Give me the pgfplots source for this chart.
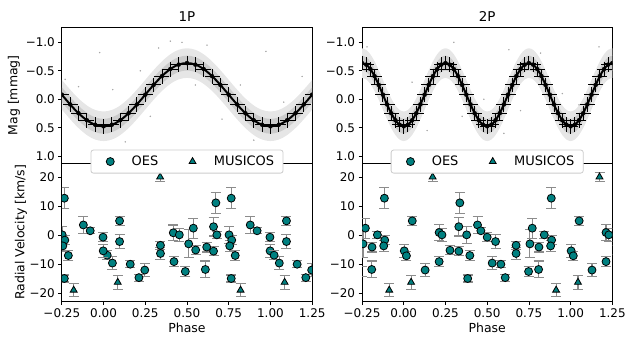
\documentclass[border=0pt]{standalone}
\usepackage{fontspec}
\setmainfont{DejaVu Sans}
\usepackage{pgfplots}
\pgfplotsset{compat=1.18}
\usepackage{pgfplotstable}
\usepgfplotslibrary{fillbetween}

\definecolor{teal0}{RGB}{0,128,128}
\definecolor{ebgray}{RGB}{140,140,140}
\definecolor{cloudo}{RGB}{230,230,230}
\definecolor{cloudi}{RGB}{203,203,203}
\definecolor{legedge}{RGB}{204,204,204}

% light curve 1P: phase, model mag, outer band, inner band
\pgfplotstableread{
p m ou od iu id
-0.250 -0.080 -0.340 0.180 -0.210 0.050
-0.225 0.007 -0.253 0.267 -0.123 0.137
-0.200 0.091 -0.169 0.351 -0.039 0.221
-0.175 0.172 -0.088 0.432 0.042 0.302
-0.150 0.246 -0.014 0.506 0.116 0.376
-0.125 0.312 0.052 0.572 0.182 0.442
-0.100 0.369 0.109 0.629 0.239 0.499
-0.075 0.415 0.155 0.675 0.285 0.545
-0.050 0.448 0.188 0.708 0.318 0.578
-0.025 0.468 0.208 0.728 0.338 0.598
0.000 0.475 0.215 0.735 0.345 0.605
0.025 0.468 0.208 0.728 0.338 0.598
0.050 0.448 0.188 0.708 0.318 0.578
0.075 0.415 0.155 0.675 0.285 0.545
0.100 0.369 0.109 0.629 0.239 0.499
0.125 0.312 0.052 0.572 0.182 0.442
0.150 0.246 -0.014 0.506 0.116 0.376
0.175 0.172 -0.088 0.432 0.042 0.302
0.200 0.091 -0.169 0.351 -0.039 0.221
0.225 0.007 -0.253 0.267 -0.123 0.137
0.250 -0.080 -0.340 0.180 -0.210 0.050
0.275 -0.167 -0.427 0.093 -0.297 -0.037
0.300 -0.251 -0.511 0.009 -0.381 -0.121
0.325 -0.332 -0.592 -0.072 -0.462 -0.202
0.350 -0.406 -0.666 -0.146 -0.536 -0.276
0.375 -0.472 -0.732 -0.212 -0.602 -0.342
0.400 -0.529 -0.789 -0.269 -0.659 -0.399
0.425 -0.575 -0.835 -0.315 -0.705 -0.445
0.450 -0.608 -0.868 -0.348 -0.738 -0.478
0.475 -0.628 -0.888 -0.368 -0.758 -0.498
0.500 -0.635 -0.895 -0.375 -0.765 -0.505
0.525 -0.628 -0.888 -0.368 -0.758 -0.498
0.550 -0.608 -0.868 -0.348 -0.738 -0.478
0.575 -0.575 -0.835 -0.315 -0.705 -0.445
0.600 -0.529 -0.789 -0.269 -0.659 -0.399
0.625 -0.472 -0.732 -0.212 -0.602 -0.342
0.650 -0.406 -0.666 -0.146 -0.536 -0.276
0.675 -0.332 -0.592 -0.072 -0.462 -0.202
0.700 -0.251 -0.511 0.009 -0.381 -0.121
0.725 -0.167 -0.427 0.093 -0.297 -0.037
0.750 -0.080 -0.340 0.180 -0.210 0.050
0.775 0.007 -0.253 0.267 -0.123 0.137
0.800 0.091 -0.169 0.351 -0.039 0.221
0.825 0.172 -0.088 0.432 0.042 0.302
0.850 0.246 -0.014 0.506 0.116 0.376
0.875 0.312 0.052 0.572 0.182 0.442
0.900 0.369 0.109 0.629 0.239 0.499
0.925 0.415 0.155 0.675 0.285 0.545
0.950 0.448 0.188 0.708 0.318 0.578
0.975 0.468 0.208 0.728 0.338 0.598
1.000 0.475 0.215 0.735 0.345 0.605
1.025 0.468 0.208 0.728 0.338 0.598
1.050 0.448 0.188 0.708 0.318 0.578
1.075 0.415 0.155 0.675 0.285 0.545
1.100 0.369 0.109 0.629 0.239 0.499
1.125 0.312 0.052 0.572 0.182 0.442
1.150 0.246 -0.014 0.506 0.116 0.376
1.175 0.172 -0.088 0.432 0.042 0.302
1.200 0.091 -0.169 0.351 -0.039 0.221
1.225 0.007 -0.253 0.267 -0.123 0.137
1.250 -0.080 -0.340 0.180 -0.210 0.050
}\lcA

% light curve 2P
\pgfplotstableread{
p m ou od iu id
-0.250 -0.635 -0.895 -0.375 -0.765 -0.505
-0.225 -0.608 -0.868 -0.348 -0.738 -0.478
-0.200 -0.529 -0.789 -0.269 -0.659 -0.399
-0.175 -0.406 -0.666 -0.146 -0.536 -0.276
-0.150 -0.251 -0.511 0.009 -0.381 -0.121
-0.125 -0.080 -0.340 0.180 -0.210 0.050
-0.100 0.091 -0.169 0.351 -0.039 0.221
-0.075 0.246 -0.014 0.506 0.116 0.376
-0.050 0.369 0.109 0.629 0.239 0.499
-0.025 0.448 0.188 0.708 0.318 0.578
0.000 0.475 0.215 0.735 0.345 0.605
0.025 0.448 0.188 0.708 0.318 0.578
0.050 0.369 0.109 0.629 0.239 0.499
0.075 0.246 -0.014 0.506 0.116 0.376
0.100 0.091 -0.169 0.351 -0.039 0.221
0.125 -0.080 -0.340 0.180 -0.210 0.050
0.150 -0.251 -0.511 0.009 -0.381 -0.121
0.175 -0.406 -0.666 -0.146 -0.536 -0.276
0.200 -0.529 -0.789 -0.269 -0.659 -0.399
0.225 -0.608 -0.868 -0.348 -0.738 -0.478
0.250 -0.635 -0.895 -0.375 -0.765 -0.505
0.275 -0.608 -0.868 -0.348 -0.738 -0.478
0.300 -0.529 -0.789 -0.269 -0.659 -0.399
0.325 -0.406 -0.666 -0.146 -0.536 -0.276
0.350 -0.251 -0.511 0.009 -0.381 -0.121
0.375 -0.080 -0.340 0.180 -0.210 0.050
0.400 0.091 -0.169 0.351 -0.039 0.221
0.425 0.246 -0.014 0.506 0.116 0.376
0.450 0.369 0.109 0.629 0.239 0.499
0.475 0.448 0.188 0.708 0.318 0.578
0.500 0.475 0.215 0.735 0.345 0.605
0.525 0.448 0.188 0.708 0.318 0.578
0.550 0.369 0.109 0.629 0.239 0.499
0.575 0.246 -0.014 0.506 0.116 0.376
0.600 0.091 -0.169 0.351 -0.039 0.221
0.625 -0.080 -0.340 0.180 -0.210 0.050
0.650 -0.251 -0.511 0.009 -0.381 -0.121
0.675 -0.406 -0.666 -0.146 -0.536 -0.276
0.700 -0.529 -0.789 -0.269 -0.659 -0.399
0.725 -0.608 -0.868 -0.348 -0.738 -0.478
0.750 -0.635 -0.895 -0.375 -0.765 -0.505
0.775 -0.608 -0.868 -0.348 -0.738 -0.478
0.800 -0.529 -0.789 -0.269 -0.659 -0.399
0.825 -0.406 -0.666 -0.146 -0.536 -0.276
0.850 -0.251 -0.511 0.009 -0.381 -0.121
0.875 -0.080 -0.340 0.180 -0.210 0.050
0.900 0.091 -0.169 0.351 -0.039 0.221
0.925 0.246 -0.014 0.506 0.116 0.376
0.950 0.369 0.109 0.629 0.239 0.499
0.975 0.448 0.188 0.708 0.318 0.578
1.000 0.475 0.215 0.735 0.345 0.605
1.025 0.448 0.188 0.708 0.318 0.578
1.050 0.369 0.109 0.629 0.239 0.499
1.075 0.246 -0.014 0.506 0.116 0.376
1.100 0.091 -0.169 0.351 -0.039 0.221
1.125 -0.080 -0.340 0.180 -0.210 0.050
1.150 -0.251 -0.511 0.009 -0.381 -0.121
1.175 -0.406 -0.666 -0.146 -0.536 -0.276
1.200 -0.529 -0.789 -0.269 -0.659 -0.399
1.225 -0.608 -0.868 -0.348 -0.738 -0.478
1.250 -0.635 -0.895 -0.375 -0.765 -0.505
}\lcB

% radial velocities, 1P phase
\pgfplotstableread{
p v e
0.022 -6.9 1.5
0.053 -9.6 2.2
0.096 4.9 1.5
0.096 -2.2 2.5
0.160 -10.0 1.2
0.212 -14.6 1.2
0.247 -12.0 2.2
0.341 -3.5 1.3
0.341 -6.3 2.0
0.418 0.8 2.7
0.454 0.1 2.2
0.422 -9.1 1.8
0.490 -12.5 1.6
0.510 -3.0 4.8
0.538 2.4 3.4
0.552 -5.1 1.5
0.610 -11.8 2.9
0.618 -4.1 1.7
0.659 2.9 3.2
0.659 -5.5 1.5
0.673 11.1 3.6
0.679 0.1 1.2
0.752 0.1 2.9
0.765 12.7 3.6
0.768 -1.7 1.5
0.756 -3.7 2.0
0.789 -7.0 1.8
0.765 -14.9 1.2
0.879 3.5 2.8
0.920 1.5 1.0
0.997 -0.7 1.5
0.998 -5.4 2.3
}\oesA
\pgfplotstableread{
p v e
0.821 -18.9 2.3
0.085 -16.2 2.4
0.339 20.0 1.5
}\musA

% radial velocities, 2P phase
\pgfplotstableread{
p v e
0.003 -5.4 2.3
0.016 -7.1 1.5
0.051 4.9 1.5
0.128 -12.0 2.2
0.212 0.9 2.7
0.229 0.1 2.2
0.212 -9.1 1.8
0.277 -5.2 1.5
0.330 -5.5 1.5
0.330 2.9 3.2
0.336 11.1 3.6
0.377 0.1 2.9
0.396 -7.0 1.8
0.383 -14.9 1.2
0.442 3.5 2.8
0.462 1.5 1.0
0.500 -0.7 1.5
0.550 -2.2 2.5
0.530 -9.6 2.2
0.582 -10.0 1.2
0.608 -14.6 1.2
0.673 -3.5 1.3
0.673 -6.3 2.0
0.748 -12.5 1.6
0.756 -3.0 4.8
0.770 2.4 3.4
0.810 -4.1 1.7
0.808 -11.8 2.9
0.842 0.1 1.2
0.884 12.7 3.6
0.886 -1.7 1.5
0.880 -3.7 2.0
}\oesB
\pgfplotstableread{
p v e
0.913 -18.9 2.3
0.044 -16.2 2.4
0.173 20.0 1.5
}\musB

\pgfplotsset{
  base/.style={scale only axis, width=251pt, xmin=-0.25, xmax=1.25,
    tick align=outside, major tick length=3.5pt,
    every tick/.style={black, line width=0.8pt},
    axis line style={line width=0.8pt},
    ticklabel style={font=\fontsize{12}{14}\selectfont},
    label style={font=\fontsize{12.5}{15}\selectfont},
    xtick pos=bottom, ytick pos=left, clip marker paths=true},
  toppanel/.style={base, anchor=south west, height=137pt,
    ymin=-1.27, ymax=1.13, y dir=reverse, xtick=\empty,
    ytick={-1,-0.5,0,0.5,1}, yticklabels={−1.0,−0.5,0.0,0.5,1.0},
    title style={font=\fontsize{13.5}{16}\selectfont, at={(axis description cs:0.5,1)}, anchor=base, yshift=-0.5pt}},
  botpanel/.style={base, anchor=north west, height=138pt,
    ymin=-22.7, ymax=24.6,
    xtick={-0.25,0,0.25,0.5,0.75,1,1.25},
    xticklabels={−0.25,0.00,0.25,0.50,0.75,1.00,1.25},
    ytick={-20,-10,0,10,20}, yticklabels={−20,−10,0,10,20},
    xlabel={Phase}, xlabel style={at={(axis description cs:0.5,-0.1957)}, anchor=center},
    legend columns=2, legend cell align=left,
    legend style={at={(0.5,1.0145)}, anchor=center, draw=legedge, line width=0.8pt,
      rounded corners=2.5pt, fill=white, font=\fontsize{13}{15}\selectfont,
      inner xsep=7pt, inner ysep=4pt,
      /tikz/every even column/.append style={column sep=20pt}}},
  oes/.style={only marks, mark=*, mark size=4pt,
    mark options={fill=teal0, draw=black, line width=0.8pt},
    restrict x to domain=-0.3:1.3,
    legend image code/.code={\path (0pt,-4pt) (31pt,4pt);
      \draw[mark repeat=2,mark phase=2,##1] plot coordinates {(0pt,0pt) (12pt,0pt) (31pt,0pt)};},
    /pgfplots/error bars/y dir=both, /pgfplots/error bars/y explicit,
    /pgfplots/error bars/error mark=-,
    /pgfplots/error bars/error bar style={ebgray, line width=1.1pt},
    /pgfplots/error bars/error mark options={ebgray, rotate=90, mark size=5pt, line width=1.1pt}},
  mus/.style={oes, mark=triangle*},
  bins/.style={only marks, mark=none,
    /pgfplots/error bars/x dir=both, /pgfplots/error bars/x fixed=0.045,
    /pgfplots/error bars/y dir=both, /pgfplots/error bars/y fixed=0.13,
    /pgfplots/error bars/error mark=none,
    /pgfplots/error bars/error bar style={black, line width=0.9pt}},
}

\begin{document}
\begin{tikzpicture}

% ---------- top left: 1P light curve ----------
\begin{axis}[toppanel, at={(62pt,174pt)}, title={1P},
  ylabel={Mag [mmag]}, ylabel style={at={(axis description cs:-0.191,0.5)}, anchor=center}]
  \addplot[draw=none, smooth, name path=ouA] table[x=p, y=ou] {\lcA};
  \addplot[draw=none, smooth, name path=odA] table[x=p, y=od] {\lcA};
  \addplot[cloudo, draw=none] fill between[of=ouA and odA];
  \addplot[draw=none, smooth, name path=iuA] table[x=p, y=iu] {\lcA};
  \addplot[draw=none, smooth, name path=idA] table[x=p, y=id] {\lcA};
  \addplot[cloudi, draw=none] fill between[of=iuA and idA];
  \addplot[only marks, mark=*, mark size=0.5pt, gray!70, mark options={draw=none}] coordinates {
    (-0.23,-0.35) (-0.15,-0.22) (-0.023,-0.82) (0.055,-0.17) (0.13,0.75) (0.22,-0.5)
    (0.33,-0.9) (0.40,-1.02) (0.47,-1.0) (0.55,-0.25) (0.62,-0.95) (0.71,0.35)
    (0.82,-0.25) (0.90,0.72) (0.973,-0.84) (1.08,0.05) (1.19,-0.4) (0.28,0.3)};
  \addplot[black, line width=2pt, smooth] table[x=p, y=m] {\lcA};
  \addplot[each nth point=2, bins] table[x=p, y=m] {\lcA};
\end{axis}

% ---------- top right: 2P light curve ----------
\begin{axis}[toppanel, at={(363pt,174pt)}, title={2P}]
  \addplot[draw=none, smooth, name path=ouB] table[x=p, y=ou] {\lcB};
  \addplot[draw=none, smooth, name path=odB] table[x=p, y=od] {\lcB};
  \addplot[cloudo, draw=none] fill between[of=ouB and odB];
  \addplot[draw=none, smooth, name path=iuB] table[x=p, y=iu] {\lcB};
  \addplot[draw=none, smooth, name path=idB] table[x=p, y=id] {\lcB};
  \addplot[cloudi, draw=none] fill between[of=iuB and idB];
  \addplot[only marks, mark=*, mark size=0.5pt, gray!70, mark options={draw=none}] coordinates {
    (-0.22,-0.92) (0.63,-0.87) (1.17,-0.92) (0.82,-0.81) (0.05,-0.3) (0.35,0.3)
    (0.48,0.0) (0.95,-0.1) (1.05,0.1) (0.14,0.55) (0.60,0.6) (0.30,-1.0) (0.70,0.2)};
  \addplot[black, line width=2pt, smooth] table[x=p, y=m] {\lcB};
  \addplot[bins] table[x=p, y=m] {\lcB};
\end{axis}

% ---------- bottom left: 1P radial velocities ----------
\begin{axis}[botpanel, at={(62pt,174pt)},
  ylabel={Radial Velocity [km/s]}, ylabel style={at={(axis description cs:-0.163,0.5)}, anchor=center}]
  \addplot[oes] table[x=p, y=v, y error=e] {\oesA};
  \addlegendentry{OES}
  \addplot[mus] table[x=p, y=v, y error=e] {\musA};
  \addlegendentry{MUSICOS}
  \addplot[forget plot, oes] table[x expr=\thisrow{p}-1, y=v, y error=e] {\oesA};
  \addplot[forget plot, oes] table[x expr=\thisrow{p}+1, y=v, y error=e] {\oesA};
  \addplot[forget plot, mus] table[x expr=\thisrow{p}-1, y=v, y error=e] {\musA};
  \addplot[forget plot, mus] table[x expr=\thisrow{p}+1, y=v, y error=e] {\musA};
\end{axis}

% ---------- bottom right: 2P radial velocities ----------
\begin{axis}[botpanel, at={(363pt,174pt)}]
  \addplot[oes] table[x=p, y=v, y error=e] {\oesB};
  \addlegendentry{OES}
  \addplot[mus] table[x=p, y=v, y error=e] {\musB};
  \addlegendentry{MUSICOS}
  \addplot[forget plot, oes] table[x expr=\thisrow{p}-1, y=v, y error=e] {\oesB};
  \addplot[forget plot, oes] table[x expr=\thisrow{p}+1, y=v, y error=e] {\oesB};
  \addplot[forget plot, mus] table[x expr=\thisrow{p}-1, y=v, y error=e] {\musB};
  \addplot[forget plot, mus] table[x expr=\thisrow{p}+1, y=v, y error=e] {\musB};
\end{axis}
\path (0pt,0pt) rectangle (629pt,338pt);
\end{tikzpicture}
\end{document}
